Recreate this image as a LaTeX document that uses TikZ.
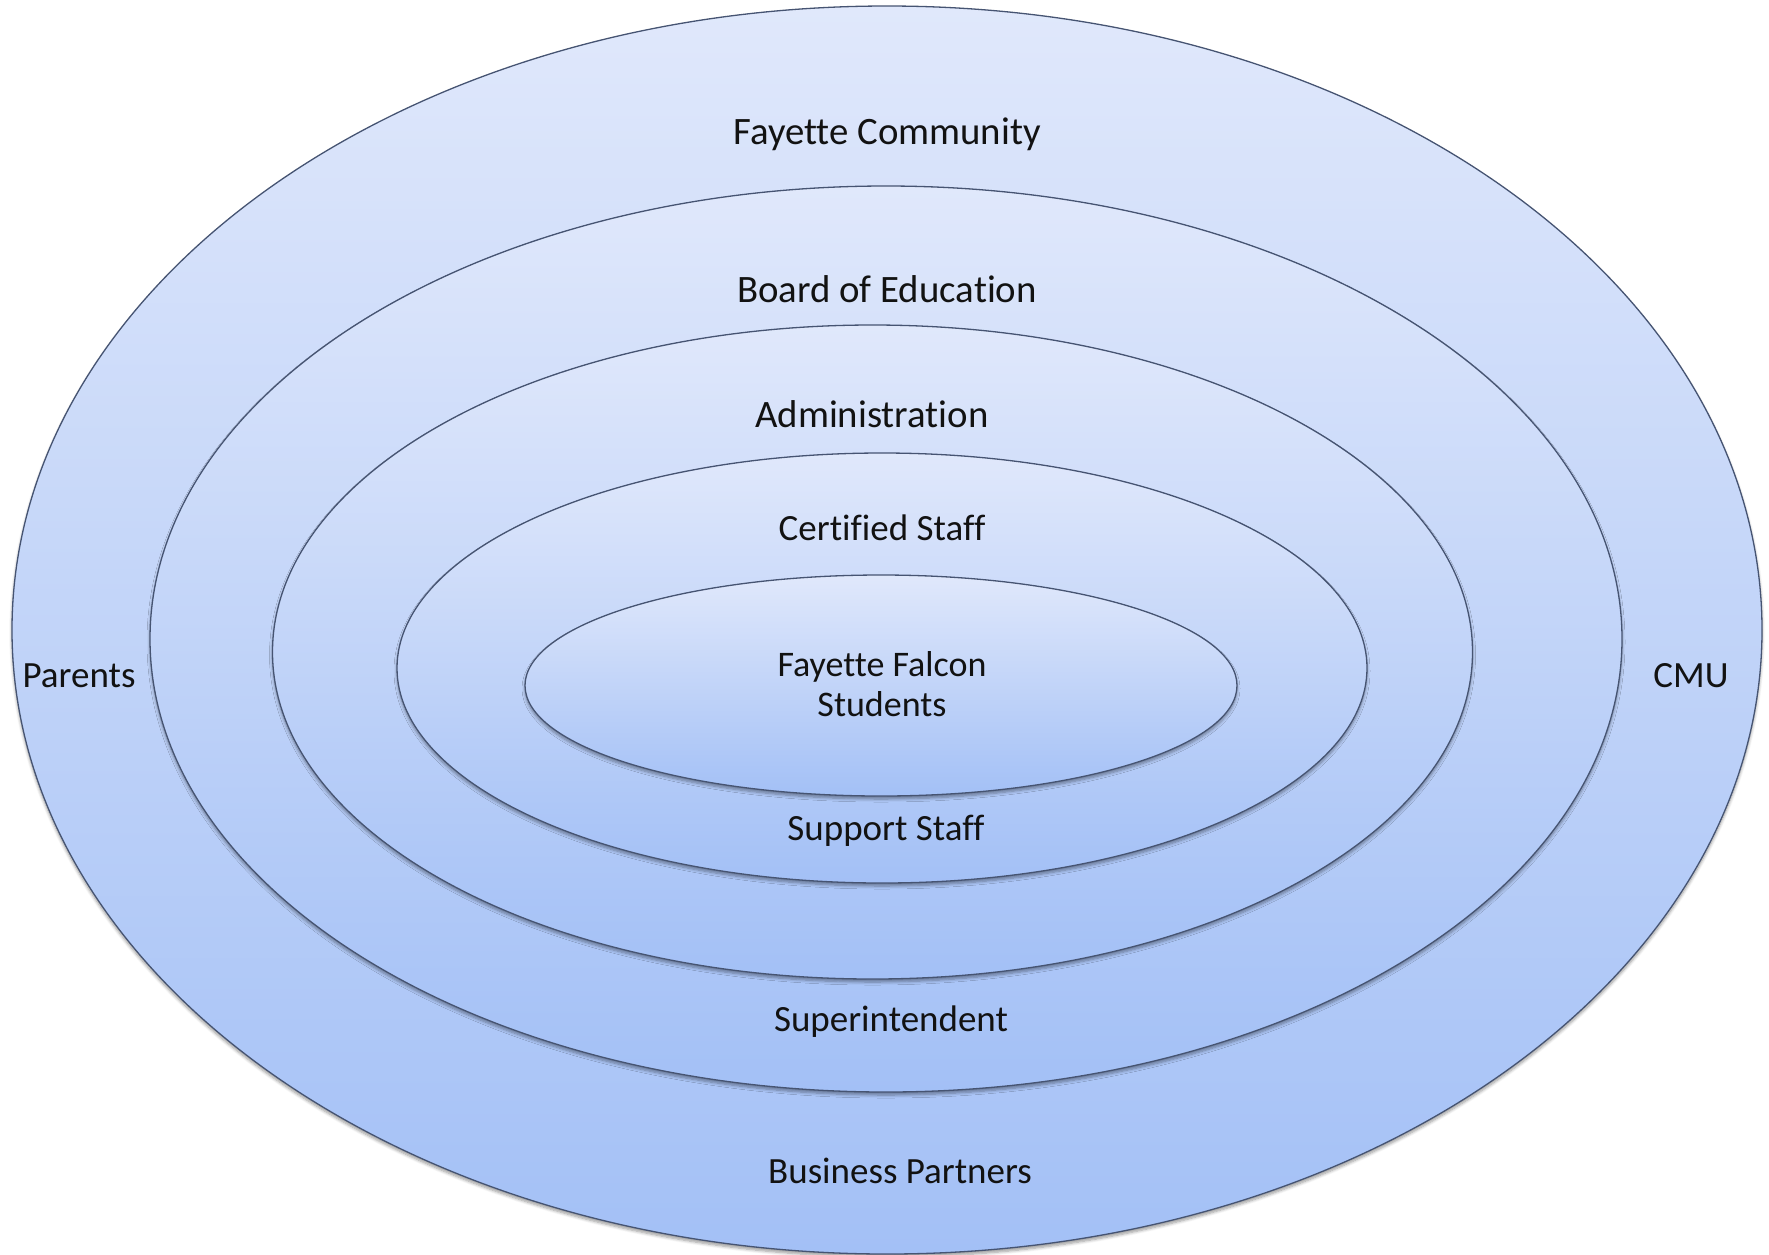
\documentclass[tikz,border=0pt]{standalone}
\usepackage{fontspec}
\setmainfont{Carlito}[Ligatures={NoCommon,NoRequired,NoContextual}]
\usetikzlibrary{shapes.geometric,shadows.blur}

\definecolor{ringtop}{RGB}{224,232,251}
\definecolor{ringbot}{RGB}{163,192,246}
\definecolor{ringline}{RGB}{70,84,114}
\definecolor{labelink}{RGB}{18,18,18}

\tikzset{
  ring/.style={ellipse, draw=ringline, line width=1.3pt, inner sep=0pt,
    top color=ringtop, bottom color=ringbot,
    blur shadow={shadow xshift=0pt, shadow yshift=-3pt,
      shadow blur steps=6, shadow opacity=40, shadow blur radius=3pt}},
  lbl/.style={anchor=base, inner sep=0pt, text=labelink,
    font=\fontsize{37}{40}\selectfont},
  toplbl/.style={lbl, font=\fontsize{38.8}{42}\selectfont}
}

\begin{document}
\begin{tikzpicture}[x=1pt, y=-1pt]
  \useasboundingbox (0,0) rectangle (1769,1254);

  % nested rings, outermost first
  \node[ring, minimum width=1750pt, minimum height=1248pt] (community) at (887,630) {};
  \node[ring, minimum width=1472pt, minimum height=906pt]  (board)     at (886,639) {};
  \node[ring, minimum width=1200pt, minimum height=654pt]  (admin)     at (872.5,652) {};
  \node[ring, minimum width=970pt,  minimum height=430pt]  (certified) at (882,668) {};
  \node[ring, minimum width=712pt,  minimum height=221pt]  (students)  at (881,685.5) {};

  % labels
  \node[toplbl] (lcommunity) at (887,144)  {Fayette Community};
  \node[toplbl] (lboard)     at (887,302)  {Board of Education};
  \node[toplbl] (ladmin)     at (872,427)  {Administration};
  \node[lbl]    (lcertified) at (882,540)  {Certified Staff};
  \node[anchor=center, inner sep=0pt, text=labelink, align=center,
        font=\fontsize{36}{40}\selectfont] (lstudents) at (882,684)
        {Fayette Falcon\\Students};
  \node[lbl]    (lsupport)   at (886,840)  {Support Staff};
  \node[lbl]    (lsuper)     at (891,1031) {Superintendent};
  \node[lbl]    (lbusiness)  at (900,1183) {Business Partners};
  \node[lbl]    (lparents)   at (79,687)   {Parents};
  \node[lbl]    (lcmu)       at (1691,687) {CMU};
\end{tikzpicture}
\end{document}
